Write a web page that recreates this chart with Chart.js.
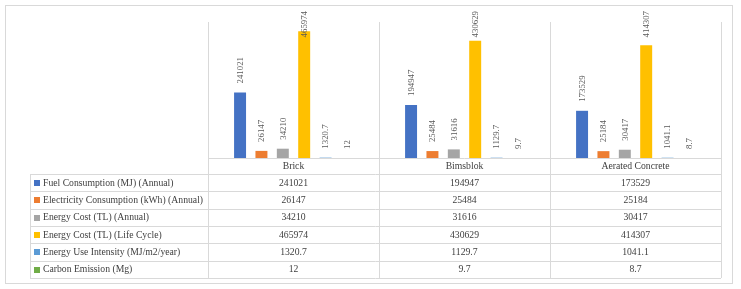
<!DOCTYPE html>
<html>
<head>
<meta charset="utf-8">
<script src="https://cdn.jsdelivr.net/npm/chart.js@4/dist/chart.umd.min.js"></script>
<style>
html,body{margin:0;padding:0;background:#fff;}
#wrap{position:relative;width:741px;height:289px;}
</style>
</head>
<body>
<div id="wrap"><canvas id="c" width="741" height="289"></canvas></div>
<script>
const categories = ['Brick', 'Bimsblok', 'Aerated Concrete'];
const seriesNames = [
  'Fuel Consumption (MJ) (Annual)',
  'Electricity Consumption (kWh) (Annual)',
  'Energy Cost (TL) (Annual)',
  'Energy Cost (TL) (Life Cycle)',
  'Energy Use Intensity (MJ/m2/year)',
  'Carbon Emission (Mg)'
];
const fuelConsumption = [241021, 194947, 173529];
const electricityConsumption = [26147, 25484, 25184];
const energyCostAnnual = [34210, 31616, 30417];
const energyCostLifeCycle = [465974, 430629, 414307];
const energyUseIntensity = [1320.7, 1129.7, 1041.1];
const carbonEmission = [12, 9.7, 8.7];
const seriesValues = [fuelConsumption, electricityConsumption, energyCostAnnual, energyCostLifeCycle, energyUseIntensity, carbonEmission];
const seriesColors = ['#4472C4', '#ED7D31', '#A5A5A5', '#FFC000', '#5B9BD5', '#70AD47'];

const FONT = '"Liberation Serif", serif';
const LINE = '#d9d9d9';

const tablePlugin = {
  id: 'tablePlugin',
  beforeDraw(chart) {
    const ctx = chart.ctx;
    ctx.save();
    ctx.strokeStyle = LINE;
    ctx.lineWidth = 1;
    ctx.strokeRect(5.5, 5.5, 727, 278);
    ctx.restore();
  },
  afterDatasetsDraw(chart) {
    const ctx = chart.ctx;
    const area = chart.chartArea;
    const xs = chart.scales.x;
    const n = categories.length;
    const headerH = 16;
    const rowH = 17.33;
    const legendLeft = 30;
    const headerTop = area.bottom;
    const rowsTop = headerTop + headerH;
    const tableBottom = rowsTop + rowH * seriesNames.length;
    ctx.save();
    // data labels
    ctx.fillStyle = '#595959';
    ctx.font = '8.8px ' + FONT;
    ctx.textAlign = 'left';
    ctx.textBaseline = 'middle';
    chart.data.datasets.forEach((ds, di) => {
      const meta = chart.getDatasetMeta(di);
      meta.data.forEach((el, i) => {
        const txt = String(ds.data[i]);
        const w = ctx.measureText(txt).width;
        let start = el.y - 9;
        if (start - w < 11) start = 11 + w;
        ctx.save();
        ctx.translate(el.x + 0.5, start);
        ctx.rotate(-Math.PI / 2);
        ctx.fillText(txt, 0, 0);
        ctx.restore();
      });
    });
    // grid / table lines
    ctx.strokeStyle = LINE;
    ctx.lineWidth = 1;
    const cx = (v) => Math.round(v) + 0.5;
    ctx.beginPath();
    for (let i = 0; i <= n; i++) {
      const x = cx(xs.getPixelForValue(i - 0.5));
      ctx.moveTo(x, area.top);
      ctx.lineTo(x, tableBottom);
    }
    ctx.moveTo(cx(legendLeft), rowsTop);
    ctx.lineTo(cx(legendLeft), tableBottom);
    ctx.moveTo(xs.getPixelForValue(-0.5), cx(headerTop));
    ctx.lineTo(xs.getPixelForValue(n - 0.5), cx(headerTop));
    for (let r = 0; r <= seriesNames.length; r++) {
      const y = cx(rowsTop + r * rowH);
      ctx.moveTo(legendLeft, y);
      ctx.lineTo(xs.getPixelForValue(n - 0.5), y);
    }
    ctx.stroke();
    // header text
    ctx.fillStyle = '#404040';
    ctx.font = '9.7px ' + FONT;
    ctx.textAlign = 'center';
    ctx.textBaseline = 'middle';
    categories.forEach((c, i) => {
      ctx.fillText(c, xs.getPixelForValue(i), headerTop + headerH / 2 + 0.5);
    });
    // rows
    seriesNames.forEach((name, r) => {
      const yMid = rowsTop + r * rowH + rowH / 2 + 0.5;
      ctx.fillStyle = seriesColors[r];
      ctx.fillRect(34, Math.round(yMid - 3), 6, 6);
      ctx.fillStyle = '#404040';
      ctx.textAlign = 'left';
      ctx.fillText(name, 43, yMid);
      ctx.textAlign = 'center';
      seriesValues[r].forEach((v, i) => {
        ctx.fillText(String(v), xs.getPixelForValue(i), yMid);
      });
    });
    ctx.restore();
  }
};

new Chart(document.getElementById('c'), {
  type: 'bar',
  data: {
    labels: categories,
    datasets: seriesNames.map((name, i) => ({
      label: name,
      data: seriesValues[i],
      backgroundColor: seriesColors[i],
      borderWidth: 0,
      categoryPercentage: 0.75,
      barPercentage: 0.56
    }))
  },
  options: {
    responsive: false,
    animation: false,
    devicePixelRatio: 1,
    layout: { padding: { left: 208, right: 20, top: 22, bottom: 131 } },
    plugins: { legend: { display: false }, tooltip: { enabled: false } },
    scales: {
      x: { display: false, offset: true, grid: { display: false } },
      y: { display: false, min: 0, max: 500000 }
    }
  },
  plugins: [tablePlugin]
});
</script>
</body>
</html>
